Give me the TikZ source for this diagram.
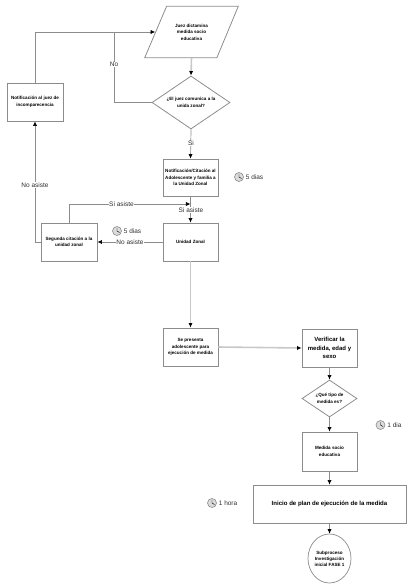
\documentclass[tikz,border=0pt]{standalone}
\usepackage{fontspec}
\setmainfont{Liberation Sans}
\usetikzlibrary{positioning,calc,shapes.geometric,arrows.meta}
\definecolor{flowLine}{HTML}{8C8C8C}
\definecolor{flowSoft}{HTML}{C8C8C8}
\definecolor{flowText}{HTML}{303030}
\definecolor{clockFill}{HTML}{DCDCDC}
\tikzset{
  flowBox/.style={draw=flowLine, line width=0.45pt, fill=white, inner sep=0pt, align=center,
    minimum width=1.1cm, minimum height=0.76cm, text=black,
    font=\fontsize{2.6}{3.7}\selectfont\bfseries},
  flowDiamond/.style={flowBox, diamond, aspect=1.47},
  flowLink/.style={draw=flowLine, line width=0.4pt, -{Latex[black,length=2.6pt,width=2.4pt]}},
  flowPlain/.style={draw=flowLine, line width=0.4pt},
  flowWide/.style={draw=flowSoft, line width=0.9pt, -{Latex[black,length=2.6pt,width=2.4pt]}},
  flowLabel/.style={fill=white, inner sep=0.3pt, text=flowText, font=\fontsize{3.7}{4.5}\selectfont},
  timeLabel/.style={inner sep=0pt, anchor=west, text=flowText, font=\fontsize{3.7}{4.5}\selectfont}
}

\begin{document}
\begin{tikzpicture}[x=0.02cm, y=-0.02cm]
\useasboundingbox (0,0) rectangle (410,587);

% --- TOP OF THE FLOW ---
\node[inner sep=0pt, minimum width=1.44cm, minimum height=1.02cm, align=center,
  font=\fontsize{2.6}{3.7}\selectfont\bfseries] (juez) at (191.5,32) {Juez dictamina\\medida socio\\educativa};
\draw[flowLine, line width=0.45pt]
  ($(juez.north west)+(11.5,0)$) -- ($(juez.north east)+(10.5,0)$)
  -- ($(juez.south east)+(-11,0)$) -- ($(juez.south west)+(-10.5,0)$) -- cycle;
\node[flowDiamond, minimum width=1.56cm, minimum height=1.06cm] (comunica) at (191,102.5)
  {¿El juez comunica a la\\unida zonal?};
\node[flowBox, minimum height=0.74cm] (notifica) at (190.5,177.5)
  {Notificación/Citación al\\Adolescente y familia a\\la Unidad Zonal};
\node[flowBox, minimum width=1.12cm] (incomparece) at (35,102)
  {Notificación al juez de\\incomparecencia};

% --- SECOND ROW ---
\node[flowBox] (unidad) at (190.5,242) {Unidad Zonal};
\node[flowBox, minimum width=1.12cm] (segunda) at (69,242) {Segunda citación a la\\unidad zonal};

% --- EXECUTION ---
\node[flowBox] (presenta) at (190.5,347) {Se presenta\\adolescente para\\ejecución de medida};
\node[flowBox, font=\fontsize{3.4}{4.9}\selectfont\bfseries] (verifica) at (329.5,348)
  {Verificar la\\medida, edad y\\sexo};
\node[flowDiamond, minimum width=1.1cm, minimum height=0.74cm] (tipo) at (329.5,398.5)
  {¿Qué tipo de\\medida es?};
\node[flowBox, minimum height=0.78cm] (medida) at (329.5,451.5) {Medida socio\\educativa};
\node[flowBox, minimum width=3.06cm, font=\fontsize{3.45}{4.5}\selectfont\bfseries] (inicio) at (329.5,504)
  {Inicio de plan de ejecución de la medida};
\node[flowBox, ellipse, minimum width=0.86cm, minimum height=0.98cm, line width=0.4pt,
  font=\fontsize{2.6}{3.4}\selectfont\bfseries] (subproceso) at (329.5,558.5)
  {Subproceso\\Investigación\\inicial FASE 1};

% --- JOINS ---
\coordinate (noJoin) at (114,32);
\coordinate (noTurn) at (114,102.5);
\coordinate (upTurn) at (35,32);
\coordinate (backTurn) at (35,242);
\coordinate (siTurn) at (69,204);
\coordinate (siJoin) at (190.5,204);

% --- CONNECTORS ---
\draw[flowWide] (juez.south) -- (comunica.north);
\draw[flowLink] (comunica.south) -- (notifica.north);
\draw[flowLink] (notifica.south) -- (unidad.north);
\draw[flowPlain] (comunica.west) -- (noTurn) -- (noJoin);
\draw[flowLink] (incomparece.north) -- (upTurn) -- (juez.west);
\draw[flowLink] (segunda.west) -- (backTurn) -- (incomparece.south);
\draw[flowLink] (unidad.west) -- (segunda.east);
\draw[flowLink] (segunda.north) -- (siTurn) -- (siJoin);
\draw[flowWide] (unidad.south) -- (presenta.north);
\draw[flowWide] (presenta.east) -- (verifica.west);
\draw[flowLink] (verifica.south) -- (tipo.north);
\draw[flowLink] (tipo.south) -- (medida.north);
\draw[flowLink] (medida.south) -- (inicio.north);
\draw[flowLink] (inicio.south) -- (subproceso.north);

% --- CONNECTOR LABELS ---
\node[flowLabel] (labelNo) at (114,64.5) {No};
\node[flowLabel] (labelSi) at (191,143.5) {Si};
\node[flowLabel] (labelNoAsisteUp) at (35,185) {No asiste};
\node[flowLabel] (labelSiAsisteTop) at (121.5,204) {Si asiste};
\node[flowLabel] (labelSiAsisteLow) at (191,210) {Si asiste};
\node[flowLabel] (labelNoAsisteLow) at (130,242) {No asiste};

% --- TIMES ---
\foreach \cx/\cy/\tname/\ttext in {239/177/a/5 dias, 117/231/b/5 dias, 380.5/425/c/1 dia, 212/503/d/1 hora} {
  \draw[flowLine, fill=clockFill, line width=0.35pt] (\cx,\cy) circle (0.09cm);
  \draw[black, line width=0.25pt] (\cx,\cy-3) -- (\cx,\cy) -- (\cx+2.5,\cy+1.5);
  \node[timeLabel] (time\tname) at (\cx+6.5,\cy) {\ttext};
}

\end{tikzpicture}
\end{document}
